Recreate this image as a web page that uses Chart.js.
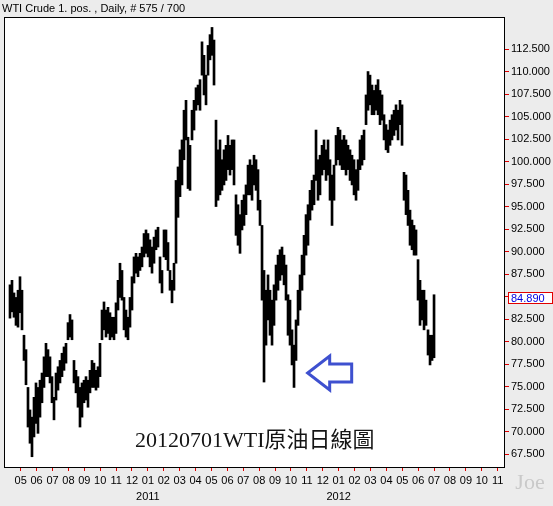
<!DOCTYPE html>
<html>
<head>
<meta charset="utf-8">
<script src="https://cdn.jsdelivr.net/npm/chart.js@4.4.1/dist/chart.umd.min.js"></script>
<style>
  html, body { margin: 0; padding: 0; background: #ececec; }
  canvas { display: block; }
</style>
</head>
<body>
<canvas id="chart" width="553" height="506"></canvas>
<script>
// month ticks, 0 = 05/2010
const monthLabels = ['05','06','07','08','09','10','11','12','01','02','03','04','05','06','07','08',
                     '09','10','11','12','01','02','03','04','05','06','07','08','09','10','11'];
const yearLabels = [{ at: 8, text: '2011' }, { at: 20, text: '2012' }];
const priceTicks = [67.5, 70, 72.5, 75, 77.5, 80, 82.5, 85, 87.5, 90, 92.5, 95, 97.5, 100,
                    102.5, 105, 107.5, 110, 112.5];

// daily bars, a few trading days per entry (low / high)
const lows = [
  82.6, 83.3, 82.7, 81.8, 81.6, 83.2, 81.3, 77.9, 75.2, 70.5,
  68.7, 67.2, 69.4, 70.9, 69.8, 71.6, 73.2, 74.9, 76.1, 76.1,
  75.4, 73.2, 71.3, 73.5, 74.6, 75.4, 76.1, 76.8, 77.6, 80.2,
  80.5, 80.2, 75.4, 74.3, 72.7, 70.5, 71.6, 73.2, 73.5, 72.7,
  74.3, 74.9, 74.9, 74.6, 74.9, 76.1, 80.2, 81.3, 80.5, 80.9,
  80.2, 80.5, 80.2, 80.9, 83.5, 84.9, 84.6, 81.3, 80.5, 80.2,
  81.6, 83.5, 86.5, 87.6, 87.2, 87.9, 88.3, 89.4, 89.8, 89.4,
  88.3, 87.6, 88.7, 90.2, 90.5, 86.5, 85.4, 89.4, 89.1, 87.9,
  85.7, 84.3, 85.7, 88.7, 93.8, 96.1, 97.4, 100.2, 102.4, 97.0,
  96.8, 102.4, 103.5, 105.7, 106.3, 105.7, 109.6, 107.4, 106.3, 109.6,
  111.3, 111.8, 108.5, 95.0, 95.7, 96.3, 96.8, 97.4, 97.9, 99.1,
  98.5, 99.1, 97.4, 91.8, 90.7, 89.8, 92.4, 92.9, 94.1, 96.3,
  96.3, 95.7, 97.4, 96.8, 94.6, 92.9, 84.6, 75.5, 79.6, 82.4,
  80.7, 79.6, 81.8, 84.6, 85.7, 86.8, 87.4, 86.3, 84.6, 80.7,
  79.6, 77.4, 74.9, 77.9, 81.8, 83.5, 85.7, 87.4, 89.6, 90.7,
  93.5, 94.6, 95.2, 97.9, 95.7, 96.3, 98.5, 99.1, 97.9, 98.5,
  95.7, 92.9, 95.7, 99.6, 100.2, 99.6, 99.1, 99.1, 98.5, 99.1,
  97.9, 97.4, 96.3, 95.7, 96.8, 99.1, 99.6, 100.2, 104.1, 105.7,
  106.3, 105.2, 105.2, 105.7, 105.2, 104.1, 104.6, 102.4, 101.3, 101.0,
  101.8, 102.4, 102.9, 103.5, 102.4, 104.1, 101.8, 95.7, 94.1, 92.9,
  90.7, 90.2, 89.6, 89.6, 84.6, 81.8, 82.4, 81.3, 81.8, 78.5,
  77.4, 77.9, 78.2
];
const highs = [
  86.3, 86.8, 85.4, 84.9, 85.7, 87.2, 85.7, 80.7, 79.1, 74.9,
  72.4, 71.6, 73.8, 75.4, 74.9, 75.7, 76.5, 78.3, 79.8, 79.1,
  78.3, 76.1, 73.8, 76.5, 77.2, 77.9, 78.7, 79.4, 79.8, 82.1,
  83.0, 82.4, 77.9, 76.8, 76.1, 74.9, 75.4, 75.7, 76.1, 75.7,
  76.8, 77.9, 77.6, 76.8, 77.2, 79.8, 83.5, 84.4, 83.5, 83.8,
  83.2, 82.7, 82.7, 84.3, 86.8, 88.7, 87.9, 84.9, 83.5, 82.7,
  84.9, 87.2, 89.4, 89.8, 89.4, 89.8, 90.5, 92.0, 92.4, 92.0,
  91.3, 90.5, 91.6, 92.4, 92.7, 89.4, 87.9, 92.4, 92.4, 91.0,
  87.9, 86.8, 88.7, 97.9, 99.4, 101.3, 102.4, 105.7, 106.8, 102.7,
  101.8, 105.7, 106.8, 108.2, 108.5, 109.1, 113.3, 111.8, 109.6, 112.9,
  114.1, 114.9, 113.5, 104.6, 101.3, 102.4, 100.2, 101.3, 101.8, 102.9,
  101.8, 102.4, 102.4, 96.3, 95.2, 94.1, 95.7, 96.3, 97.4, 99.6,
  100.2, 99.6, 100.7, 100.2, 99.1, 95.7, 92.9, 87.9, 85.7, 87.4,
  85.7, 84.6, 86.3, 88.5, 89.6, 90.2, 90.5, 89.6, 88.5, 85.2,
  84.6, 81.3, 79.6, 82.4, 85.7, 87.4, 89.6, 91.8, 94.1, 95.2,
  96.8, 97.9, 98.5, 103.5, 100.2, 100.7, 101.8, 102.4, 101.3, 102.4,
  100.2, 98.5, 99.6, 102.9, 103.8, 103.5, 102.4, 102.9, 102.4, 101.8,
  101.3, 100.7, 100.2, 99.1, 100.2, 102.4, 102.9, 103.5, 107.4, 110.0,
  109.6, 108.5, 107.9, 108.5, 109.1, 107.9, 107.4, 105.2, 104.1, 103.5,
  104.6, 105.2, 105.7, 106.3, 105.7, 106.8, 106.3, 98.8, 98.5, 96.8,
  94.6, 93.5, 92.9, 92.4, 89.1, 86.8, 85.7, 85.7, 84.6, 81.3,
  80.7, 80.7, 85.2
];
const firstPos = -0.673;   // month position of the first entry
const stepPos = 0.1258;    // month span of one entry
const lastPrice = 84.89;
const titleText = 'WTI Crude 1. pos. , Daily, # 575 / 700';
const noteText = '20120701WTI原油日線圖';
const arrowAt = [18.05, 76.5]; // tip of the blue arrow (month, price)

Chart.defaults.font.family = '"Liberation Sans", Arial, sans-serif';
Chart.defaults.font.size = 11;
Chart.defaults.color = '#000';

const bars = lows.map((lo, i) => ({ x: firstPos + i * stepPos, y: [lo, highs[i]] }));

const decor = {
  id: 'decor',
  beforeDraw(chart) {
    const { ctx, chartArea: a } = chart;
    ctx.save();
    ctx.fillStyle = '#fff';
    ctx.fillRect(a.left, a.top, a.right - a.left, a.bottom - a.top);
    ctx.restore();
  },
  afterDraw(chart) {
    const { ctx, chartArea: a, scales: { x, y } } = chart;
    ctx.save();
    ctx.strokeStyle = '#000';
    ctx.lineWidth = 1;
    ctx.strokeRect(a.left + 0.5, a.top + 0.5, a.right - a.left - 1, a.bottom - a.top);

    ctx.fillStyle = '#000';
    ctx.font = '11px "Liberation Sans", Arial, sans-serif';
    ctx.textBaseline = 'middle';
    ctx.textAlign = 'left';
    ctx.fillText(titleText, 2, 9);

    ctx.textAlign = 'center';
    yearLabels.forEach(yl => ctx.fillText(yl.text, x.getPixelForValue(yl.at), 497));

    // last price box
    const py = Math.round(y.getPixelForValue(lastPrice));
    ctx.fillStyle = '#fff';
    ctx.fillRect(a.right + 3, py - 6, 45, 12);
    ctx.strokeStyle = '#e00000';
    ctx.strokeRect(a.right + 3.5, py - 5.5, 44, 11);
    ctx.fillStyle = '#0000e0';
    ctx.textAlign = 'left';
    ctx.fillText(lastPrice.toFixed(3), a.right + 6, py + 0.5);

    // note
    ctx.fillStyle = '#141414';
    ctx.font = '22px "Liberation Serif", "Noto Sans CJK TC", serif';
    ctx.textAlign = 'left';
    ctx.textBaseline = 'alphabetic';
    ctx.fillText(noteText, a.left + 131, a.bottom - 20);

    // arrow
    const tx = x.getPixelForValue(arrowAt[0]);
    const ty = y.getPixelForValue(arrowAt[1]);
    ctx.strokeStyle = '#3e50cf';
    ctx.lineWidth = 3;
    ctx.lineJoin = 'miter';
    ctx.beginPath();
    ctx.moveTo(tx, ty);
    ctx.lineTo(tx + 22, ty - 17);
    ctx.lineTo(tx + 22, ty - 9);
    ctx.lineTo(tx + 44, ty - 9);
    ctx.lineTo(tx + 44, ty + 9);
    ctx.lineTo(tx + 22, ty + 9);
    ctx.lineTo(tx + 22, ty + 17);
    ctx.closePath();
    ctx.stroke();

    // watermark
    ctx.fillStyle = '#c9c9c9';
    ctx.font = '22px "Liberation Serif", serif';
    ctx.textAlign = 'center';
    ctx.fillText('Joe', a.right + 25, 489);
    ctx.restore();
  }
};

new Chart(document.getElementById('chart'), {
  type: 'bar',
  data: {
    datasets: [{
      data: bars,
      backgroundColor: '#000',
      borderWidth: 0,
      barThickness: 2,
      grouped: false
    }]
  },
  options: {
    responsive: false,
    animation: false,
    devicePixelRatio: 1,
    layout: { padding: { left: 4, top: 17, right: 0, bottom: 0 } },
    plugins: { legend: { display: false }, tooltip: { enabled: false }, title: { display: false } },
    scales: {
      x: {
        type: 'linear',
        min: -1.05,
        max: 30.46,
        offset: false,
        grid: { offset: false, drawOnChartArea: false, tickLength: 4, tickColor: '#e00000' },
        border: { display: false },
        afterBuildTicks: s => { s.ticks = monthLabels.map((_, i) => ({ value: i })); },
        afterFit: s => { s.height = 39; },
        ticks: {
          autoSkip: false,
          maxRotation: 0,
          padding: 3,
          callback: (v) => monthLabels[v]
        }
      },
      y: {
        position: 'right',
        min: 66.06,
        max: 116.06,
        grid: { drawOnChartArea: false, tickLength: 4, tickColor: '#e00000' },
        border: { display: false },
        afterBuildTicks: s => { s.ticks = priceTicks.map(v => ({ value: v })); },
        afterFit: s => { s.width = 48; },
        ticks: {
          padding: 2,
          callback: v => (v === 85 ? '' : v.toFixed(3))
        }
      }
    }
  },
  plugins: [decor]
});
</script>
</body>
</html>
